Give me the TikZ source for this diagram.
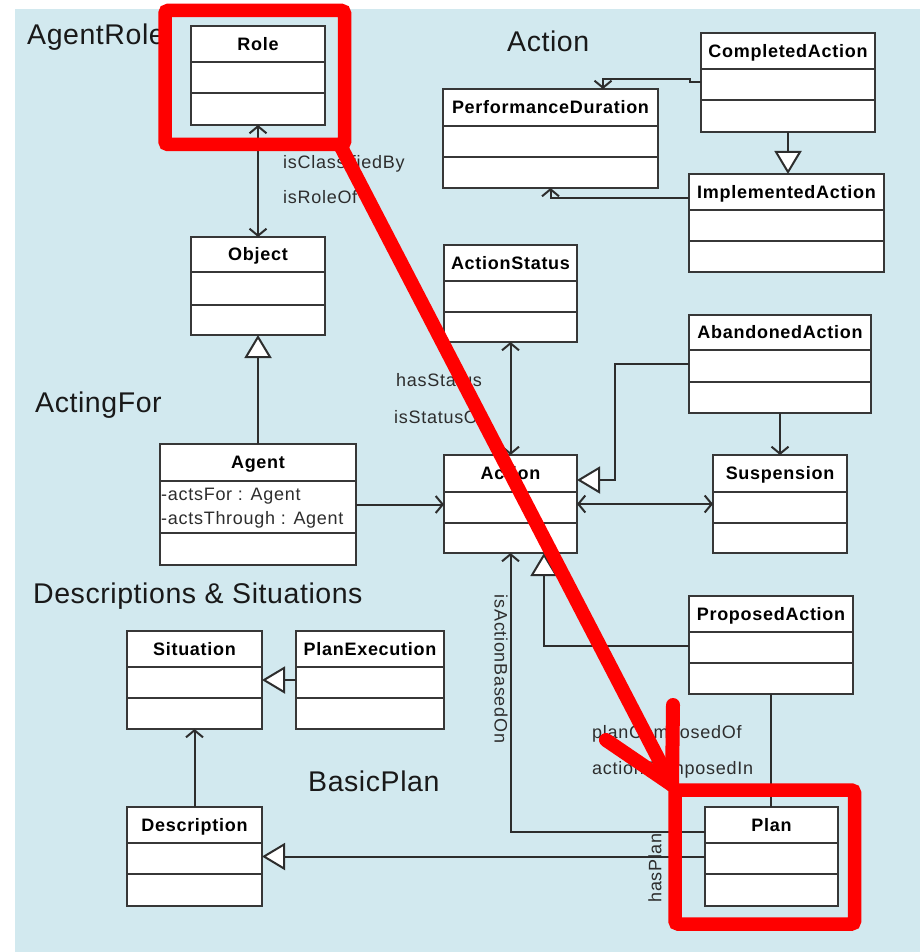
\documentclass[tikz,border=0pt]{standalone}
\usepackage{fontspec}
\setmainfont{Liberation Sans}
\newfontfamily\umlfont[LetterSpace=4]{Liberation Sans}
\newfontfamily\pkgfont[LetterSpace=2]{Liberation Sans}
\usetikzlibrary{arrows.meta,calc}

\definecolor{panel}{RGB}{210,233,239}
\definecolor{ink}{RGB}{45,45,45}
\definecolor{boxline}{RGB}{55,55,55}
\definecolor{pkgtext}{RGB}{25,25,25}
\definecolor{marker}{RGB}{255,0,0}

\tikzset{
  classbox/.style={draw=boxline, line width=2.1pt, fill=white, inner sep=0pt, outer sep=0pt},
  compline/.style={draw=boxline, line width=2.1pt},
  classtitle/.style={font=\umlfont\bfseries\fontsize{18}{20}\selectfont, text=black,
    inner sep=0pt, text height=12.9pt, text depth=0pt},
  attrtext/.style={font=\umlfont\fontsize{18}{20}\selectfont, text=ink, inner sep=0pt, anchor=base west},
  rolelabel/.style={font=\umlfont\fontsize{18}{20}\selectfont, text=ink, inner sep=0pt, anchor=base west},
  pkglabel/.style={font=\pkgfont\fontsize{28.5}{31}\selectfont, text=pkgtext, inner sep=0pt, anchor=base west},
  assoc/.style={draw=ink, line width=2pt},
  gen/.style={assoc, -{Triangle[fill=white,length=23pt,width=27pt]}},
  markline/.style={draw=marker, line width=14pt, line cap=round, line join=round},
  markbox/.style={draw=marker, line width=13.5pt, rounded corners=3pt},
}

% UML class with three compartments:
% name, left, top, right, bottom, first divider, second divider, title
\newcommand\umlclass[8]{%
  \node[classbox, anchor=north west, minimum width={#4-#2}, minimum height={#5-#3}] (#1) at (#2,#3) {};
  \draw[compline] (#1.west |- 0,#6) -- (#1.east |- 0,#6);
  \draw[compline] (#1.west |- 0,#7) -- (#1.east |- 0,#7);
  \node[classtitle] (#1-title) at ({(#2+#4)/2},{(#3+#6)/2}) {#8};
}

\begin{document}
\begin{tikzpicture}[x=1pt, y=-1pt, >={Straight Barb[length=7pt,width=17pt]}]
\useasboundingbox (0,0) rectangle (920,952);
\fill[white] (0,0) rectangle (920,952);
\fill[panel] (15,9.5) rectangle (920,952);

% package names
\node[pkglabel] (pkg-agentrole) at (27,45) {AgentRole};
\node[pkglabel] (pkg-action) at (507,52) {Action};
\node[pkglabel] (pkg-actingfor) at (35,412) {ActingFor};
\node[pkglabel] (pkg-ds) at (33,603) {Descriptions \& Situations};
\node[pkglabel] (pkg-basicplan) at (308,791) {BasicPlan};

% classes
\umlclass{role}{191}{26}{325}{125}{62}{93}{Role}
\umlclass{object}{191}{237}{325}{335}{272}{305}{Object}
\umlclass{agent}{160}{444}{356}{565}{481}{533}{Agent}
\umlclass{pd}{443}{89}{658}{188}{126}{157}{PerformanceDuration}
\umlclass{completed}{701}{33}{875}{132}{69}{100}{CompletedAction}
\umlclass{implemented}{689}{174}{884}{272}{210}{241}{ImplementedAction}
\umlclass{status}{444}{245}{577}{342}{281}{312}{ActionStatus}
\umlclass{action}{444}{455}{577}{553}{492}{523}{Action}
\umlclass{abandoned}{689}{315}{871}{413}{350}{382}{AbandonedAction}
\umlclass{suspension}{713}{455}{847}{553}{492}{523}{Suspension}
\umlclass{proposed}{689}{596}{853}{694}{632}{663}{ProposedAction}
\umlclass{plan}{705}{807}{838}{906}{843}{874}{Plan}
\umlclass{situation}{127}{631}{262}{729}{667}{698}{Situation}
\umlclass{planexec}{296}{631}{444}{729}{667}{698}{PlanExecution}
\umlclass{description}{127}{807}{262}{906}{843}{874}{Description}

% attributes of Agent
\node[attrtext] (agent-a1) at (161,500.5) {-actsFor : Agent};
\node[attrtext] (agent-a2) at (161,524) {-actsThrough : Agent};

% bend points
\coordinate (cp1) at (690,82);
\coordinate (cp2) at (690,79);
\coordinate (cp3) at (603,79);
\coordinate (ab1) at (615,364);
\coordinate (ab2) at (615,480);
\coordinate (pa1) at (544,646);
\coordinate (ib1) at (510.5,832);

% associations
\draw[assoc,<->] (role.south) -- (object.north);
\draw[assoc,<->] (status.south) -- (action.north);
\draw[assoc,<->] (action.east) -- (suspension.west);
\draw[assoc,->] (agent.east) -- (agent.east -| action.west);
\draw[assoc,->] (abandoned.south) -- (suspension.north);
\draw[assoc,->] (completed.west |- cp1) -- (cp1) -- (cp2) -- (cp3) -- (cp3 |- pd.north);
\draw[assoc,->] (implemented.west |- 0,198) -| (pd.south);
\draw[assoc,<-] (action.south) -- (ib1) -- (ib1 -| plan.west);
\draw[assoc,<-] (situation.south) -- (description.north);
\draw[assoc] (proposed.south) -- (proposed.south |- plan.north);

% generalizations
\draw[gen] (agent.north) -- (object.south);
\draw[gen] (completed.south) -- (completed.south |- implemented.north);
\draw[gen] (abandoned.west |- ab1) -- (ab1) -- (ab2) -- (ab2 -| action.east);
\draw[gen] (proposed.west |- pa1) -- (pa1) -- (pa1 |- action.south);
\draw[gen] (plan.west |- description.east) -- (description.east);
\draw[gen] (planexec.west |- situation.east) -- (situation.east);

% role names
\node[rolelabel] (l-classified) at (283,168) {isClassifiedBy};
\node[rolelabel] (l-roleof) at (283,204) {isRoleOf};
\node[rolelabel] (l-hasstatus) at (396,386) {hasStatus};
\node[rolelabel] (l-statusof) at (394,423) {isStatusOf};
\node[rolelabel] (l-composedof) at (592,738) {planComposedOf};
\node[rolelabel] (l-composedin) at (592,774) {actionComposedIn};
\node[rolelabel, anchor=center, rotate=-90] (l-basedon) at (501,669) {isActionBasedOn};
\node[rolelabel, anchor=center, rotate=90] (l-hasplan) at (655,868) {hasPlan};

% highlight marks
\draw[markbox] (165,10.5) rectangle (344.5,144.5);
\draw[markbox] (675,790) rectangle (854.5,924);
\coordinate (mk-start) at (340,145);
\coordinate (mk-tip) at (672,785);
\draw[markline] (mk-start) -- (mk-tip);
\draw[markline] (673,705) -- (mk-tip) -- (606,740);
\end{tikzpicture}
\end{document}
